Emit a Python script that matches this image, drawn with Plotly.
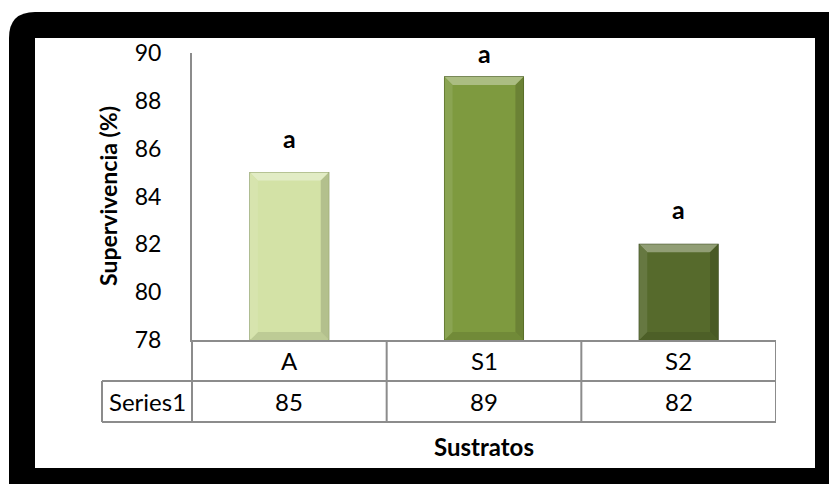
import plotly.graph_objects as go

# ---- data ----
categories = ["A", "S1", "S2"]
survival = [85, 89, 82]
letters = ["a", "a", "a"]
series_name = "Series1"
y_ticks = [78, 80, 82, 84, 86, 88, 90]
bar_colors = ["#d3e2a6", "#7e9a3f", "#566a2c"]
edge_colors = ["#8a9a62", "#4e6322", "#35441a"]

W, H = 829, 484
YMIN, YMAX = 78, 90
FONT = "Lato"
GRID = "#8c8c8c"


def px(x):
    return x / W


def py(y):
    return 1 - y / H


def shade(hex_color, f):
    """f>0 lightens toward white, f<0 darkens toward black."""
    h = hex_color.lstrip("#")
    r, g, b = (int(h[i:i + 2], 16) for i in (0, 2, 4))
    if f >= 0:
        r, g, b = (int(c + (255 - c) * f) for c in (r, g, b))
    else:
        r, g, b = (int(c * (1 + f)) for c in (r, g, b))
    return f"rgb({r},{g},{b})"


# plot area in pixels
X0, X1 = 192, 776
Y_TOP, Y_BOT = 53, 340
ROW1, ROW2 = 381, 422
n = len(categories)
xs = list(range(n))
bar_w = 0.405

fig = go.Figure()

# bars, resting on the axis minimum
fig.add_trace(go.Bar(
    x=xs, y=[v - YMIN for v in survival], base=YMIN, width=bar_w,
    marker=dict(color=bar_colors, line=dict(color=edge_colors, width=1.2)),
    hoverinfo="skip", showlegend=False,
))

# bevel facets on each bar
px_per_cat = (X1 - X0) / n
px_per_unit = (Y_BOT - Y_TOP) / (YMAX - YMIN)
dx = 8 / px_per_cat
dy = 8 / px_per_unit
hw = bar_w / 2
for i, v in enumerate(survival):
    c = bar_colors[i]
    l, r = i - hw, i + hw
    facets = [
        ([l, r, r - dx, l + dx, l], [v, v, v - dy, v - dy, v], shade(c, 0.35)),   # top
        ([l, r, r - dx, l + dx, l], [YMIN, YMIN, YMIN + dy, YMIN + dy, YMIN], shade(c, -0.10)),  # bottom
        ([r, r, r - dx, r - dx, r], [v, YMIN, YMIN + dy, v - dy, v], shade(c, -0.15)),  # right
        ([l, l, l + dx, l + dx, l], [v, YMIN, YMIN + dy, v - dy, v], shade(c, 0.10)),  # left
    ]
    for fx, fy, fc in facets:
        fig.add_trace(go.Scatter(
            x=fx, y=fy, fill="toself", fillcolor=fc, mode="lines",
            line=dict(width=0), hoverinfo="skip", showlegend=False,
        ))
    # significance letter above the bar
    fig.add_annotation(
        x=i, y=min(v + 0.75, YMAX - 0.7), xref="x", yref="y",
        text=f"<b>{letters[i]}</b>", showarrow=False,
        xanchor="center", yanchor="bottom",
        font=dict(family=FONT, size=25, color="black"),
    )

shapes = []
# black rounded frame and white panel
r = 26
x_a, y_a = 9, 12
shapes.append(dict(
    type="path", xref="paper", yref="paper",
    path=(f"M {px(x_a)},{py(y_a + r)} Q {px(x_a)},{py(y_a)} {px(x_a + r)},{py(y_a)} "
          f"L 1,{py(y_a)} L 1,0 L {px(x_a)},0 Z"),
    fillcolor="black", line=dict(width=0), layer="below",
))
shapes.append(dict(type="rect", xref="paper", yref="paper",
                   x0=px(35), x1=px(815), y0=py(38), y1=py(468),
                   fillcolor="white", line=dict(width=0), layer="below"))

# data table grid
line = dict(color=GRID, width=2)
for yy in (ROW1, ROW2):
    shapes.append(dict(type="line", xref="paper", yref="paper",
                       x0=px(102), x1=px(X1), y0=py(yy), y1=py(yy), line=line))
shapes.append(dict(type="line", xref="paper", yref="paper",
                   x0=px(102), x1=px(102), y0=py(ROW1), y1=py(ROW2), line=line))
shapes.append(dict(type="line", xref="paper", yref="paper",
                   x0=px(X0), x1=px(X0), y0=py(Y_BOT), y1=py(ROW2), line=line))
for k in range(n):
    xb = k + 0.5
    shapes.append(dict(type="line", xref="x", yref="paper",
                       x0=xb, x1=xb, y0=py(Y_BOT), y1=py(ROW2), line=line))

fig.update_layout(shapes=shapes)

# table text
tfont = dict(family=FONT, size=24, color="black")
for i, (cat, v) in enumerate(zip(categories, survival)):
    fig.add_annotation(x=i, y=py((Y_BOT + ROW1) / 2), xref="x", yref="paper",
                       text=cat, showarrow=False, font=tfont,
                       xanchor="center", yanchor="middle")
    fig.add_annotation(x=i, y=py((ROW1 + ROW2) / 2), xref="x", yref="paper",
                       text=str(v), showarrow=False, font=tfont,
                       xanchor="center", yanchor="middle")
fig.add_annotation(x=px((102 + X0) / 2), y=py((ROW1 + ROW2) / 2), xref="paper", yref="paper",
                   text=series_name, showarrow=False, font=tfont,
                   xanchor="center", yanchor="middle")

# axis titles
fig.add_annotation(x=px(484), y=py(446), xref="paper", yref="paper",
                   text="<b>Sustratos</b>", showarrow=False,
                   xanchor="center", yanchor="middle",
                   font=dict(family=FONT, size=24, color="black"))
fig.add_annotation(x=px(108), y=py(196), xref="paper", yref="paper",
                   text="<b>Supervivencia (%)</b>", textangle=-90, showarrow=False,
                   xanchor="center", yanchor="middle",
                   font=dict(family=FONT, size=23, color="black"))

fig.update_layout(
    width=W, height=H, margin=dict(l=0, r=0, t=0, b=0, pad=0, autoexpand=False),
    paper_bgcolor="white", plot_bgcolor="rgba(0,0,0,0)",
    showlegend=False,
    xaxis=dict(domain=[px(X0), px(X1)], range=[-0.5, n - 0.5],
               showticklabels=False, showgrid=False, zeroline=False,
               showline=True, linecolor=GRID, linewidth=2, ticks="",
               automargin=False),
    yaxis=dict(domain=[py(Y_BOT), py(Y_TOP)], range=[YMIN, YMAX],
               tickvals=y_ticks, showgrid=False, zeroline=False,
               showline=True, linecolor=GRID, linewidth=2, ticks="",
               ticklabelstandoff=24, automargin=False,
               tickfont=dict(family=FONT, size=23, color="black")),
)

fig.write_html("out.html")
